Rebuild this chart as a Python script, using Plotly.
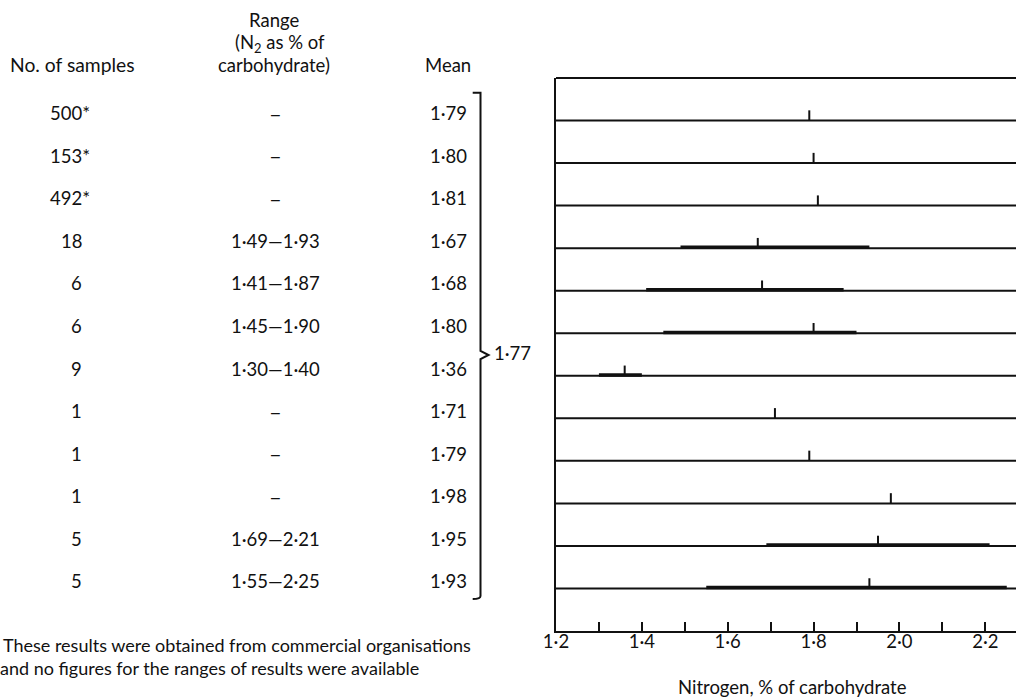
import plotly.graph_objects as go

# ---------------- data ----------------
samples = ["500*", "153*", "492*", "18", "6", "6", "9", "1", "1", "1", "5", "5"]
range_lo = [None, None, None, 1.49, 1.41, 1.45, 1.30, None, None, None, 1.69, 1.55]
range_hi = [None, None, None, 1.93, 1.87, 1.90, 1.40, None, None, None, 2.21, 2.25]
means = [1.79, 1.80, 1.81, 1.67, 1.68, 1.80, 1.36, 1.71, 1.79, 1.98, 1.95, 1.93]
overall_mean = 1.77
x_ticks = [1.2, 1.4, 1.6, 1.8, 2.0, 2.2]
x_ticklabels = ["1·2", "1·4", "1·6", "1·8", "2·0", "2·2"]

# ---------------- layout geometry (pixels) ----------------
W, H = 1016, 700
L, R, T, B = 556, 1016, 78, 631
FONT = "Lato"
FS = 18.5
BLACK = "#111111"


def px_x(px):
    return (px - L) / (R - L)


def px_y(py):
    return (B - py) / (B - T)


def fmt(v):
    return f"{v:.2f}".replace(".", "·")


n = len(means)
rows_y = [n - i for i in range(n)]  # baseline of each row in data units
fig = go.Figure()

# range bars
bx, by = [], []
for lo, hi, y in zip(range_lo, range_hi, rows_y):
    if lo is not None:
        bx += [lo, hi, None]
        by += [y + 0.02, y + 0.02, None]
fig.add_trace(go.Scatter(x=bx, y=by, mode="lines",
                         line=dict(color=BLACK, width=3.5), hoverinfo="skip",
                         showlegend=False))

# mean ticks
mx, my = [], []
for m, y in zip(means, rows_y):
    mx += [m, m, None]
    my += [y, y + 0.24, None]
fig.add_trace(go.Scatter(x=mx, y=my, mode="lines",
                         line=dict(color=BLACK, width=2), hoverinfo="skip",
                         showlegend=False))

shapes = []
# row baselines
for y in rows_y:
    shapes.append(dict(type="line", xref="x domain", yref="y", x0=0, x1=1,
                       y0=y, y1=y, line=dict(color=BLACK, width=2)))
# top border
shapes.append(dict(type="line", xref="x domain", yref="y domain", x0=0, x1=1,
                   y0=1, y1=1, line=dict(color=BLACK, width=2)))

# bracket
bl, bxv, bp = 472.7, 480.5, 488.5
btop, bmid, bbot = 92.7, 355, 599
path = (f"M {px_x(bl)},{px_y(btop)} L {px_x(bxv)},{px_y(btop)} "
        f"L {px_x(bxv)},{px_y(bmid - 4)} L {px_x(bp)},{px_y(bmid)} "
        f"L {px_x(bxv)},{px_y(bmid + 4)} L {px_x(bxv)},{px_y(bbot - 3)} "
        f"Q {px_x(bxv)},{px_y(bbot)} {px_x(bl)},{px_y(bbot)}")
shapes.append(dict(type="path", xref="paper", yref="paper", path=path,
                   line=dict(color=BLACK, width=2)))

annotations = []


def ann(text, x_px, y, yref="y", xanchor="center", size=FS, **kw):
    annotations.append(dict(text=text, x=px_x(x_px), y=y, xref="paper",
                            yref=yref, xanchor=xanchor, yanchor="middle",
                            showarrow=False, borderpad=0,
                            font=dict(family=FONT, size=size, color=BLACK), **kw))


# headers
ann("No. of samples", 72, px_y(65), yref="paper", size=19.3)
ann("Range", 274, px_y(20), yref="paper")
ann("(N<sub>2</sub> as % of", 280, px_y(43), yref="paper")
ann("carbohydrate)", 274, px_y(65), yref="paper")
ann("Mean", 448, px_y(65), yref="paper")

# table rows
for s, lo, hi, m, y in zip(samples, range_lo, range_hi, means, rows_y):
    ty = y + 0.17
    ann(s, 91 if s.endswith("*") else 83, ty, xanchor="right")
    rtxt = "–" if lo is None else f"{fmt(lo)}—{fmt(hi)}"
    ann(rtxt, 275, ty, size=(22 if lo is None else FS))
    ann(fmt(m), 448, ty)

ann(fmt(overall_mean), 512, px_y(353), yref="paper")

# axis title
ann("Nitrogen, % of carbohydrate", 792, px_y(687), yref="paper")

# footnote
ann("These results were obtained from commercial organisations", 2, px_y(645),
    yref="paper", xanchor="left", size=18)
ann("and no figures for the ranges of results were available", -1, px_y(668),
    yref="paper", xanchor="left", size=18)

fig.update_layout(
    width=W, height=H,
    margin=dict(l=L, r=W - R, t=T, b=H - B, pad=0),
    paper_bgcolor="white", plot_bgcolor="white",
    showlegend=False,
    shapes=shapes,
    annotations=annotations,
    xaxis=dict(range=[1.2, 1.2 + (R - L) / 429.3], showgrid=False,
               zeroline=False, showline=True, linecolor=BLACK, linewidth=2,
               ticks="inside", ticklen=9, tickwidth=2, tickcolor=BLACK,
               tickvals=x_ticks, ticktext=x_ticklabels,
               tickfont=dict(family=FONT, size=FS, color=BLACK),
               ticklabelstandoff=-7,
               minor=dict(dtick=0.1, tick0=1.2, ticks="inside", ticklen=9,
                          tickwidth=2, tickcolor=BLACK),
               fixedrange=True),
    yaxis=dict(range=[0, n + 1], showgrid=False, zeroline=False,
               showline=True, linecolor=BLACK, linewidth=2,
               showticklabels=False, ticks="", fixedrange=True),
)

fig.write_html("out.html", post_script="document.body.style.margin='0';",
               config={"displayModeBar": False})
